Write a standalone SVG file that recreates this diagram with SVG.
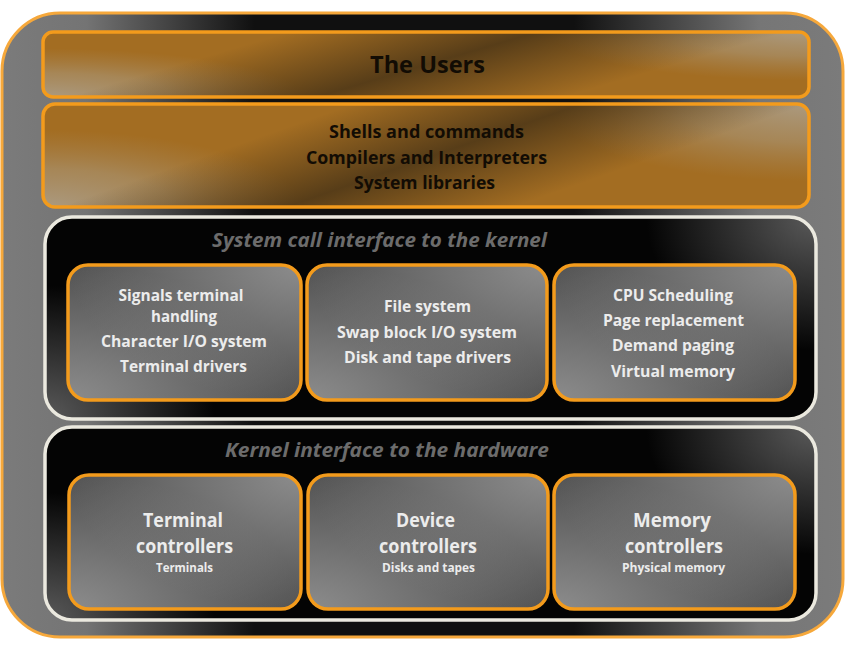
<svg xmlns="http://www.w3.org/2000/svg" width="846" height="649" viewBox="0 0 846 649">
  <defs>
    <style>
      .ob { fill: none; stroke: #f39b1c; stroke-width: 3.5; }
      .wb { fill: none; stroke: #ebe9df; stroke-width: 3.5; }
      .tx { font-family: "Open Sans", "Liberation Sans", sans-serif; font-weight: 700; text-anchor: middle; }
      .dk { fill: #120c04; }
      .wt { fill: #ececec; font-size: 15.5px; }
      .big { fill: #ececec; font-size: 19.5px; }
      .sm { fill: #ececec; font-size: 12px; }
      .ttl { fill: #6c6c6c; font-size: 19px; font-style: italic; }
    </style>
    <!-- container: grey rim, dark centre -->
    <linearGradient id="outerG" gradientUnits="userSpaceOnUse" x1="2" y1="0" x2="843" y2="0">
      <stop offset="0" stop-color="#7b7b7b"/>
      <stop offset="0.1" stop-color="#747474"/>
      <stop offset="0.3" stop-color="#101010"/>
      <stop offset="0.68" stop-color="#101010"/>
      <stop offset="0.9" stop-color="#767676"/>
      <stop offset="1" stop-color="#7b7b7b"/>
    </linearGradient>
    <!-- tan sheen on amber bars -->
    <radialGradient id="tanBL" cx="0" cy="1" r="0.34" gradientTransform="matrix(1 0 0 2.2 0 -1.2)">
      <stop offset="0" stop-color="#ab9a80" stop-opacity="1"/>
      <stop offset="0.5" stop-color="#a8916d" stop-opacity="0.7"/>
      <stop offset="1" stop-color="#a6875a" stop-opacity="0"/>
    </radialGradient>
    <radialGradient id="tanTR" cx="1" cy="0" r="0.34" gradientTransform="matrix(1 0 0 2.2 0 0)">
      <stop offset="0" stop-color="#ab9a80" stop-opacity="1"/>
      <stop offset="0.5" stop-color="#a8916d" stop-opacity="0.7"/>
      <stop offset="1" stop-color="#a6875a" stop-opacity="0"/>
    </radialGradient>
    <!-- soft dark diagonal band through the amber bars -->
    <linearGradient id="bandUsers" gradientUnits="userSpaceOnUse" x1="407.3" y1="-2.6" x2="446.7" y2="131.6">
      <stop offset="0" stop-color="#3e2d15" stop-opacity="0"/>
      <stop offset="0.3" stop-color="#3e2d15" stop-opacity="0.45"/>
      <stop offset="0.5" stop-color="#3e2d15" stop-opacity="0.75"/>
      <stop offset="0.7" stop-color="#3e2d15" stop-opacity="0.45"/>
      <stop offset="1" stop-color="#3e2d15" stop-opacity="0"/>
    </linearGradient>
    <linearGradient id="bandShells" gradientUnits="userSpaceOnUse" x1="409.3" y1="84.7" x2="458.7" y2="226.3">
      <stop offset="0" stop-color="#3e2d15" stop-opacity="0"/>
      <stop offset="0.3" stop-color="#3e2d15" stop-opacity="0.45"/>
      <stop offset="0.5" stop-color="#3e2d15" stop-opacity="0.75"/>
      <stop offset="0.7" stop-color="#3e2d15" stop-opacity="0.45"/>
      <stop offset="1" stop-color="#3e2d15" stop-opacity="0"/>
    </linearGradient>
    <!-- grey sheen on black panels -->
    <radialGradient id="panBL" cx="0" cy="1" r="0.22" gradientTransform="matrix(1 0 0 3 0 -2)">
      <stop offset="0" stop-color="#5a5a5a" stop-opacity="1"/>
      <stop offset="1" stop-color="#5a5a5a" stop-opacity="0"/>
    </radialGradient>
    <radialGradient id="panTR" cx="1" cy="0" r="0.22" gradientTransform="matrix(1 0 0 3 0 0)">
      <stop offset="0" stop-color="#5a5a5a" stop-opacity="1"/>
      <stop offset="1" stop-color="#5a5a5a" stop-opacity="0"/>
    </radialGradient>
    <!-- lighter corners on grey module boxes -->
    <radialGradient id="modBL" cx="0" cy="1" r="1">
      <stop offset="0" stop-color="#8c8c8c" stop-opacity="1"/>
      <stop offset="1" stop-color="#8c8c8c" stop-opacity="0"/>
    </radialGradient>
    <radialGradient id="modTR" cx="1" cy="0" r="1">
      <stop offset="0" stop-color="#8c8c8c" stop-opacity="1"/>
      <stop offset="1" stop-color="#8c8c8c" stop-opacity="0"/>
    </radialGradient>
  </defs>

  <!-- outer container -->
  <g id="container">
    <rect x="2" y="13" width="841" height="624" rx="58" fill="url(#outerG)" stroke="#f6a83b" stroke-width="3"/>
  </g>

  <g id="users">
    <rect x="43" y="32" width="766" height="65" rx="10" fill="#a36d22"/>
    <rect x="43" y="32" width="766" height="65" rx="10" fill="url(#tanBL)"/>
    <rect x="43" y="32" width="766" height="65" rx="10" fill="url(#tanTR)"/>
    <rect x="43" y="32" width="766" height="65" rx="10" fill="url(#bandUsers)"/>
    <rect x="43" y="32" width="766" height="65" rx="10" class="ob"/>
    <text class="tx dk" x="427.5" y="73" font-size="24" textLength="115" lengthAdjust="spacingAndGlyphs">The Users</text>
  </g>

  <g id="shells">
    <rect x="43" y="104" width="766" height="103" rx="12" fill="#a36d22"/>
    <rect x="43" y="104" width="766" height="103" rx="12" fill="url(#tanBL)"/>
    <rect x="43" y="104" width="766" height="103" rx="12" fill="url(#tanTR)"/>
    <rect x="43" y="104" width="766" height="103" rx="12" fill="url(#bandShells)"/>
    <rect x="43" y="104" width="766" height="103" rx="12" class="ob"/>
    <text class="tx dk" font-size="18" x="426.5" y="138" textLength="195" lengthAdjust="spacingAndGlyphs">Shells and commands</text>
    <text class="tx dk" font-size="18" x="426.5" y="164" textLength="241" lengthAdjust="spacingAndGlyphs">Compilers and Interpreters</text>
    <text class="tx dk" font-size="18" x="424.5" y="188.5" textLength="141" lengthAdjust="spacingAndGlyphs">System libraries</text>
  </g>

  <!-- system call layer -->
  <g id="syscall">
    <rect x="45" y="217" width="771" height="202" rx="27" fill="#040404"/>
    <rect x="45" y="217" width="771" height="202" rx="27" fill="url(#panBL)"/>
    <rect x="45" y="217" width="771" height="202" rx="27" fill="url(#panTR)"/>
    <rect x="45" y="217" width="771" height="202" rx="27" class="wb"/>
    <text class="tx ttl" x="379.5" y="247" textLength="335" lengthAdjust="spacingAndGlyphs">System call interface to the kernel</text>
  </g>

  <g id="terminal-io">
    <rect x="68" y="265" width="233" height="135" rx="20" fill="#525252"/>
    <rect x="68" y="265" width="233" height="135" rx="20" fill="url(#modBL)"/>
    <rect x="68" y="265" width="233" height="135" rx="20" fill="url(#modTR)"/>
    <rect x="68" y="265" width="233" height="135" rx="20" class="ob"/>
    <text class="tx wt" x="181" y="300.7" textLength="125" lengthAdjust="spacingAndGlyphs">Signals terminal</text>
    <text class="tx wt" x="184" y="322" textLength="66" lengthAdjust="spacingAndGlyphs">handling</text>
    <text class="tx wt" x="184" y="347" textLength="166" lengthAdjust="spacingAndGlyphs">Character I/O system</text>
    <text class="tx wt" x="183.5" y="372" textLength="127" lengthAdjust="spacingAndGlyphs">Terminal drivers</text>
  </g>

  <g id="file-system">
    <rect x="307" y="265" width="240" height="135" rx="20" fill="#525252"/>
    <rect x="307" y="265" width="240" height="135" rx="20" fill="url(#modBL)"/>
    <rect x="307" y="265" width="240" height="135" rx="20" fill="url(#modTR)"/>
    <rect x="307" y="265" width="240" height="135" rx="20" class="ob"/>
    <text class="tx wt" x="427.5" y="312" textLength="87" lengthAdjust="spacingAndGlyphs">File system</text>
    <text class="tx wt" x="427" y="338" textLength="180" lengthAdjust="spacingAndGlyphs">Swap block I/O system</text>
    <text class="tx wt" x="427.5" y="363" textLength="167" lengthAdjust="spacingAndGlyphs">Disk and tape drivers</text>
  </g>

  <g id="memory-mgmt">
    <rect x="554" y="265" width="241" height="135" rx="20" fill="#525252"/>
    <rect x="554" y="265" width="241" height="135" rx="20" fill="url(#modBL)"/>
    <rect x="554" y="265" width="241" height="135" rx="20" fill="url(#modTR)"/>
    <rect x="554" y="265" width="241" height="135" rx="20" class="ob"/>
    <text class="tx wt" x="673" y="300.7" textLength="120" lengthAdjust="spacingAndGlyphs">CPU Scheduling</text>
    <text class="tx wt" x="673.5" y="325.5" textLength="141" lengthAdjust="spacingAndGlyphs">Page replacement</text>
    <text class="tx wt" x="673" y="351" textLength="122" lengthAdjust="spacingAndGlyphs">Demand paging</text>
    <text class="tx wt" x="673" y="376.5" textLength="124" lengthAdjust="spacingAndGlyphs">Virtual memory</text>
  </g>

  <!-- hardware interface layer -->
  <g id="hwinterface">
    <rect x="45" y="427" width="771" height="193" rx="27" fill="#040404"/>
    <rect x="45" y="427" width="771" height="193" rx="27" fill="url(#panBL)"/>
    <rect x="45" y="427" width="771" height="193" rx="27" fill="url(#panTR)"/>
    <rect x="45" y="427" width="771" height="193" rx="27" class="wb"/>
    <text class="tx ttl" x="387" y="457" textLength="324" lengthAdjust="spacingAndGlyphs">Kernel interface to the hardware</text>
  </g>

  <g id="terminal-controllers">
    <rect x="69" y="475" width="232" height="134" rx="20" fill="#525252"/>
    <rect x="69" y="475" width="232" height="134" rx="20" fill="url(#modBL)"/>
    <rect x="69" y="475" width="232" height="134" rx="20" fill="url(#modTR)"/>
    <rect x="69" y="475" width="232" height="134" rx="20" class="ob"/>
    <text class="tx big" x="183" y="526.7" textLength="80" lengthAdjust="spacingAndGlyphs">Terminal</text>
    <text class="tx big" x="184.5" y="552.7" textLength="97" lengthAdjust="spacingAndGlyphs">controllers</text>
    <text class="tx sm" x="184.5" y="572.3" textLength="57" lengthAdjust="spacingAndGlyphs">Terminals</text>
  </g>

  <g id="device-controllers">
    <rect x="308" y="475" width="240" height="134" rx="20" fill="#525252"/>
    <rect x="308" y="475" width="240" height="134" rx="20" fill="url(#modBL)"/>
    <rect x="308" y="475" width="240" height="134" rx="20" fill="url(#modTR)"/>
    <rect x="308" y="475" width="240" height="134" rx="20" class="ob"/>
    <text class="tx big" x="425.5" y="526.7" textLength="59" lengthAdjust="spacingAndGlyphs">Device</text>
    <text class="tx big" x="428" y="552.7" textLength="98" lengthAdjust="spacingAndGlyphs">controllers</text>
    <text class="tx sm" x="428.5" y="572.3" textLength="93" lengthAdjust="spacingAndGlyphs">Disks and tapes</text>
  </g>

  <g id="memory-controllers">
    <rect x="554" y="475" width="241" height="134" rx="20" fill="#525252"/>
    <rect x="554" y="475" width="241" height="134" rx="20" fill="url(#modBL)"/>
    <rect x="554" y="475" width="241" height="134" rx="20" fill="url(#modTR)"/>
    <rect x="554" y="475" width="241" height="134" rx="20" class="ob"/>
    <text class="tx big" x="672" y="526.7" textLength="78" lengthAdjust="spacingAndGlyphs">Memory</text>
    <text class="tx big" x="674" y="552.7" textLength="98" lengthAdjust="spacingAndGlyphs">controllers</text>
    <text class="tx sm" x="673.5" y="572.3" textLength="103" lengthAdjust="spacingAndGlyphs">Physical memory</text>
  </g>
</svg>
